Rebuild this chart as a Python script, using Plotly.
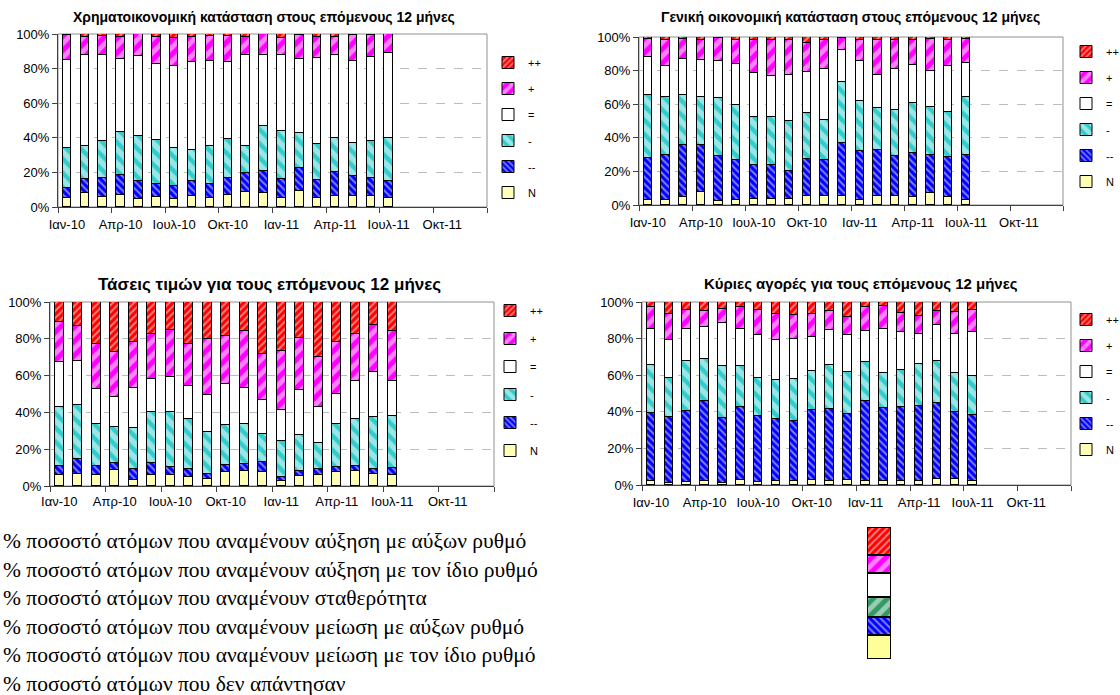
import plotly.graph_objects as go

# ---------------- data ----------------
months = ["Ιαν-10", "Φεβ-10", "Μαρ-10", "Απρ-10", "Μαϊ-10", "Ιουν-10", "Ιουλ-10", "Αυγ-10",
          "Σεπ-10", "Οκτ-10", "Νοε-10", "Δεκ-10", "Ιαν-11", "Φεβ-11", "Μαρ-11", "Απρ-11",
          "Μαϊ-11", "Ιουν-11", "Ιουλ-11", "Αυγ-11", "Σεπ-11", "Οκτ-11", "Νοε-11", "Δεκ-11"]
tick_labels = ["Ιαν-10", "Απρ-10", "Ιουλ-10", "Οκτ-10", "Ιαν-11", "Απρ-11", "Ιουλ-11", "Οκτ-11"]
series_names = ["N", "--", "-", "=", "+", "++"]

# Chart 1: Χρηματοικονομική κατάσταση
fin_N  = [5, 8, 5.5, 7, 4.5, 5.5, 4.5, 6.5, 5, 7, 8.5, 8, 5, 9, 5, 6.5, 6.5, 6.5, 5]
fin_mm = [6, 8, 11, 11.5, 10.5, 8, 7.5, 8.5, 8.5, 10, 11, 13, 11, 13.5, 10.5, 13.5, 11.5, 10, 10]
fin_m  = [23, 19, 21.5, 25, 26, 25.5, 22, 18, 22, 22.5, 15.5, 26, 28, 20.5, 21, 20, 19, 21.5, 25]
fin_eq = [51, 53, 50, 42, 46.5, 43.5, 47.5, 51, 49, 44.5, 53, 41, 44, 42.5, 49.5, 48, 47.5, 48.5, 49]
fin_p  = [14.5, 10.5, 11, 12.5, 12.5, 16, 16, 14, 14.5, 15, 10, 12, 9.5, 14, 12.5, 10, 15, 13, 11]
fin_pp = [0.5, 1.5, 1, 2, 0, 1.5, 2.5, 2, 1, 1, 2, 0, 2.5, 0.5, 1.5, 2, 0.5, 0.5, 0]

# Chart 2: Γενική οικονομική κατάσταση
gen_N  = [3, 3, 4.5, 8, 2.5, 3, 3.5, 3.5, 3.5, 5.5, 5.5, 5.5, 3, 5.5, 5.5, 4.5, 7, 4.5, 3]
gen_mm = [25, 26.5, 31.5, 27.5, 26.5, 24, 20.5, 20.5, 17, 22, 21, 31.5, 29, 27, 23.5, 26.5, 23, 24, 27]
gen_m  = [37.5, 34.5, 29.5, 29, 34.5, 32.5, 28.5, 28.5, 29.5, 27.5, 24, 36.5, 30, 25.5, 27.5, 30, 28.5, 27, 34]
gen_eq = [22.5, 18.5, 21.5, 22, 22, 24.5, 26, 24.5, 27.5, 24, 30.5, 18.5, 23.5, 19.5, 24.5, 22.5, 21.5, 27, 20.5]
gen_p  = [11, 16, 12, 12, 14, 14.5, 19.5, 21.5, 21, 17.5, 17, 7.5, 13, 20.5, 17, 15, 19, 16, 14.5]
gen_pp = [1, 1.5, 1, 1.5, 0.5, 1.5, 2, 1.5, 1.5, 3.5, 2, 0.5, 1.5, 2, 2, 1.5, 1, 1.5, 1]

# Chart 3: Τάσεις τιμών
pr_N  = [6, 6.5, 6, 8.5, 3.5, 6, 6, 5, 4, 7.5, 8, 7.5, 2.5, 5.5, 6, 7.5, 8, 6.5, 6]
pr_mm = [5, 8, 5, 4, 5.5, 6.5, 4.5, 4.5, 2.5, 4, 4, 5.5, 2.5, 2.5, 3, 3, 3, 2.5, 4]
pr_m  = [32, 29.5, 22.5, 19.5, 22.5, 27.5, 29.5, 27, 23, 21.5, 21.5, 15, 19.5, 19.5, 14.5, 23, 25.5, 28.5, 28]
pr_eq = [24.5, 24, 19, 16.5, 22, 18, 19.5, 18, 20, 22.5, 20, 19, 17, 24.5, 19.5, 16.5, 20.5, 24.5, 19]
pr_p  = [21.5, 19, 24.5, 24.5, 25, 24.5, 25.5, 22.5, 30.5, 26, 30.5, 24.5, 32, 28.5, 27, 28, 25.5, 25.5, 27.5]
pr_pp = [11, 13, 23, 27, 21.5, 17.5, 15, 23, 20, 18.5, 16, 28.5, 26.5, 19.5, 30, 22, 17.5, 12.5, 15.5]

# Chart 4: Κύριες αγορές
buy_N  = [2, 1, 1.5, 2, 1, 3, 1.5, 2, 2, 3, 2, 3, 2, 2, 2, 2, 3.5, 3.5, 2]
buy_mm = [37.5, 36, 39, 44, 35.5, 39.5, 36, 34, 33, 38, 39.5, 36, 44, 40, 40.5, 41, 41.5, 36.5, 36]
buy_m  = [26, 21.5, 27.5, 23, 28.5, 22.5, 21, 21.5, 23, 21.5, 24, 23, 21, 19, 20.5, 23, 23, 21, 21.5]
buy_eq = [20, 21, 17.5, 17.5, 23.5, 20.5, 23.5, 22, 22, 18.5, 19, 20, 17, 24.5, 20.5, 16.5, 19.5, 21.5, 24]
buy_p  = [12, 14, 10, 8.5, 7.5, 11.5, 13.5, 14, 13, 12.5, 10.5, 10, 13, 12.5, 10.5, 10, 7.5, 12, 12]
buy_pp = [2.5, 6.5, 4.5, 5, 4, 3, 4.5, 6.5, 7, 6.5, 5, 8, 3, 2, 6, 7.5, 5, 5.5, 4.5]

titles = ["Χρηματοικονομική κατάσταση στους επόμενους 12 μήνες",
          "Γενική οικονομική κατάσταση στους επόμενους 12 μήνες",
          "Τάσεις τιμών για τους επόμενους 12 μήνες",
          "Κύριες αγορές για τους επόμενους 12 μήνες"]

note_lines = ["% ποσοστό ατόμων που αναμένουν αύξηση με αύξων ρυθμό",
              "% ποσοστό ατόμων που αναμένουν αύξηση με τον ίδιο ρυθμό",
              "% ποσοστό ατόμων που αναμένουν σταθερότητα",
              "% ποσοστό ατόμων που αναμένουν μείωση με αύξων ρυθμό",
              "% ποσοστό ατόμων που αναμένουν μείωση με τον ίδιο ρυθμό",
              "% ποσοστό ατόμων που δεν απάντησαν"]

# key swatch (bottom) segment heights, bottom to top: yellow, blue, green, white, magenta, red
key_names = ["yellow", "blue", "green", "white", "magenta", "red"]
key_sizes = [24, 18, 20, 24, 18, 28]

charts = [
    [fin_N, fin_mm, fin_m, fin_eq, fin_p, fin_pp],
    [gen_N, gen_mm, gen_m, gen_eq, gen_p, gen_pp],
    [pr_N, pr_mm, pr_m, pr_eq, pr_p, pr_pp],
    [buy_N, buy_mm, buy_m, buy_eq, buy_p, buy_pp],
]

# ---------------- styles ----------------
# solid base colour with white diagonal stripes drawn on top
styles = {
    "N":  dict(color="#FFFFB8", shape="", size=6, sol=0.3),
    "--": dict(color="#0000FF", shape="\\", size=5, sol=0.4),
    "-":  dict(color="#33CCCC", shape="\\", size=10, sol=0.55),
    "=":  dict(color="white", shape="", size=6, sol=0.3),
    "+":  dict(color="#FF00FF", shape="/", size=10, sol=0.5),
    "++": dict(color="#FF0000", shape="/", size=5, sol=0.4),
}
key_styles = {
    "yellow":  dict(color="#FFFF99", shape="", size=6, sol=0.3),
    "blue":    dict(color="#0000FF", shape="\\", size=5, sol=0.4),
    "green":   dict(color="#339966", shape="/", size=10, sol=0.5),
    "white":   dict(color="white", shape="", size=6, sol=0.3),
    "magenta": dict(color="#FF00FF", shape="/", size=10, sol=0.5),
    "red":     dict(color="#FF0000", shape="/", size=5, sol=0.4),
}

W, H = 1120, 695
# plot areas in pixels: (x0, x1, ytop, ybottom)
areas = [(58, 487, 34, 207), (639, 1063, 37, 205), (50, 494, 302, 486), (642, 1071, 302, 485)]
legend_pos = [(488, 48, 7), (1066, 37, 7), (490, 296, 9), (1066, 305, 7)]
title_pos = [(264, 17, 14), (850, 17, 14), (269, 284, 17), (861, 283, 15)]
label_standoff = [5, 5, 3, 5]

fig = go.Figure()
AX = "#404040"
FONT = "Liberation Sans, Arial, sans-serif"


def marker_for(st, lw):
    return dict(color=st["color"], line=dict(color="black", width=lw),
                pattern=dict(shape=st["shape"], fgcolor="white", bgcolor=st["color"],
                             size=st["size"], solidity=st["sol"]))


for k, data in enumerate(charts):
    xa = "x" if k == 0 else f"x{k+1}"
    ya = "y" if k == 0 else f"y{k+1}"
    lg = "legend" if k == 0 else f"legend{k+1}"
    for r, (name, vals) in enumerate(zip(series_names, data)):
        fig.add_trace(go.Bar(
            x=list(range(len(vals))), y=vals, name=name, width=0.47,
            xaxis=xa, yaxis=ya, legend=lg, legendgroup=f"g{k}{name}",
            legendrank=len(series_names) - r,
            marker=marker_for(styles[name], 1), hoverinfo="skip"))

    x0, x1, yt, yb = areas[k]
    xkey = "xaxis" if k == 0 else f"xaxis{k+1}"
    ykey = "yaxis" if k == 0 else f"yaxis{k+1}"
    fig.layout[xkey] = dict(
        domain=[x0 / W, x1 / W], anchor=ya, range=[-0.5, len(months) - 0.5], automargin=False,
        tickmode="array", tickvals=[months.index(t) for t in tick_labels], ticktext=tick_labels,
        ticks="", showline=True, linecolor=AX, linewidth=1, showgrid=False, zeroline=False,
        ticklabelstandoff=label_standoff[k],
        tickfont=dict(family=FONT, size=13, color="black"),
        minor=dict(tickmode="array", tickvals=[i - 0.5 for i in range(0, len(months) + 1, 3)],
                   ticks="outside", ticklen=5, tickcolor=AX, tickwidth=1, showgrid=False))
    fig.layout[ykey] = dict(
        domain=[1 - yb / H, 1 - yt / H], anchor=xa, range=[0, 100], automargin=False,
        tickmode="array", tickvals=[0, 20, 40, 60, 80, 100],
        ticktext=["0%", "20%", "40%", "60%", "80%", "100%"],
        ticks="outside", ticklen=5, tickcolor=AX, showline=True, linecolor=AX,
        showgrid=True, gridcolor="#BDBDBD", griddash="dash", gridwidth=1, zeroline=False,
        tickfont=dict(family=FONT, size=13, color="black"))
    fig.add_shape(type="rect", xref=f"{xa} domain", yref=f"{ya} domain", x0=0, x1=1, y0=0, y1=1,
                  line=dict(color="#909090", width=1), layer="below")

    lx, ly, gap = legend_pos[k]
    fig.layout[lg] = dict(x=lx / W, y=1 - ly / H, xanchor="left", yanchor="top",
                          traceorder="grouped", tracegroupgap=gap,
                          bgcolor="rgba(0,0,0,0)", borderwidth=0,
                          font=dict(family=FONT, size=11, color="black"))

    tx, ty, ts = title_pos[k]
    fig.add_annotation(x=tx / W, y=1 - ty / H, xref="paper", yref="paper", text=f"<b>{titles[k]}</b>",
                       showarrow=False, xanchor="center", yanchor="middle",
                       font=dict(family=FONT, size=ts, color="black"))

# key swatch stack
for name, v in zip(key_names, key_sizes):
    fig.add_trace(go.Bar(
        x=[0], y=[v], width=1, xaxis="x5", yaxis="y5", showlegend=False, hoverinfo="skip",
        marker=marker_for(key_styles[name], 2)))
fig.layout["xaxis5"] = dict(domain=[867 / W, 891 / W], anchor="y5", range=[-0.5, 0.5], visible=False)
fig.layout["yaxis5"] = dict(domain=[1 - 659 / H, 1 - 527 / H], anchor="x5", range=[0, 100], visible=False)

# note lines
for i, line in enumerate(note_lines):
    fig.add_annotation(x=1 / W, y=1 - (541 + i * 28.6) / H, xref="paper", yref="paper", text=line,
                       showarrow=False, xanchor="left", yanchor="middle",
                       font=dict(family="Liberation Serif, Times New Roman, serif", size=21.5, color="black"))

fig.update_layout(width=W, height=H, margin=dict(l=0, r=0, t=0, b=0, autoexpand=False),
                  barmode="stack", barnorm="percent", bargap=0,
                  plot_bgcolor="white", paper_bgcolor="white")

fig.write_html("out.html", config={"displayModeBar": False},
               post_script="document.body.style.margin='0';document.body.style.overflow='hidden';")
